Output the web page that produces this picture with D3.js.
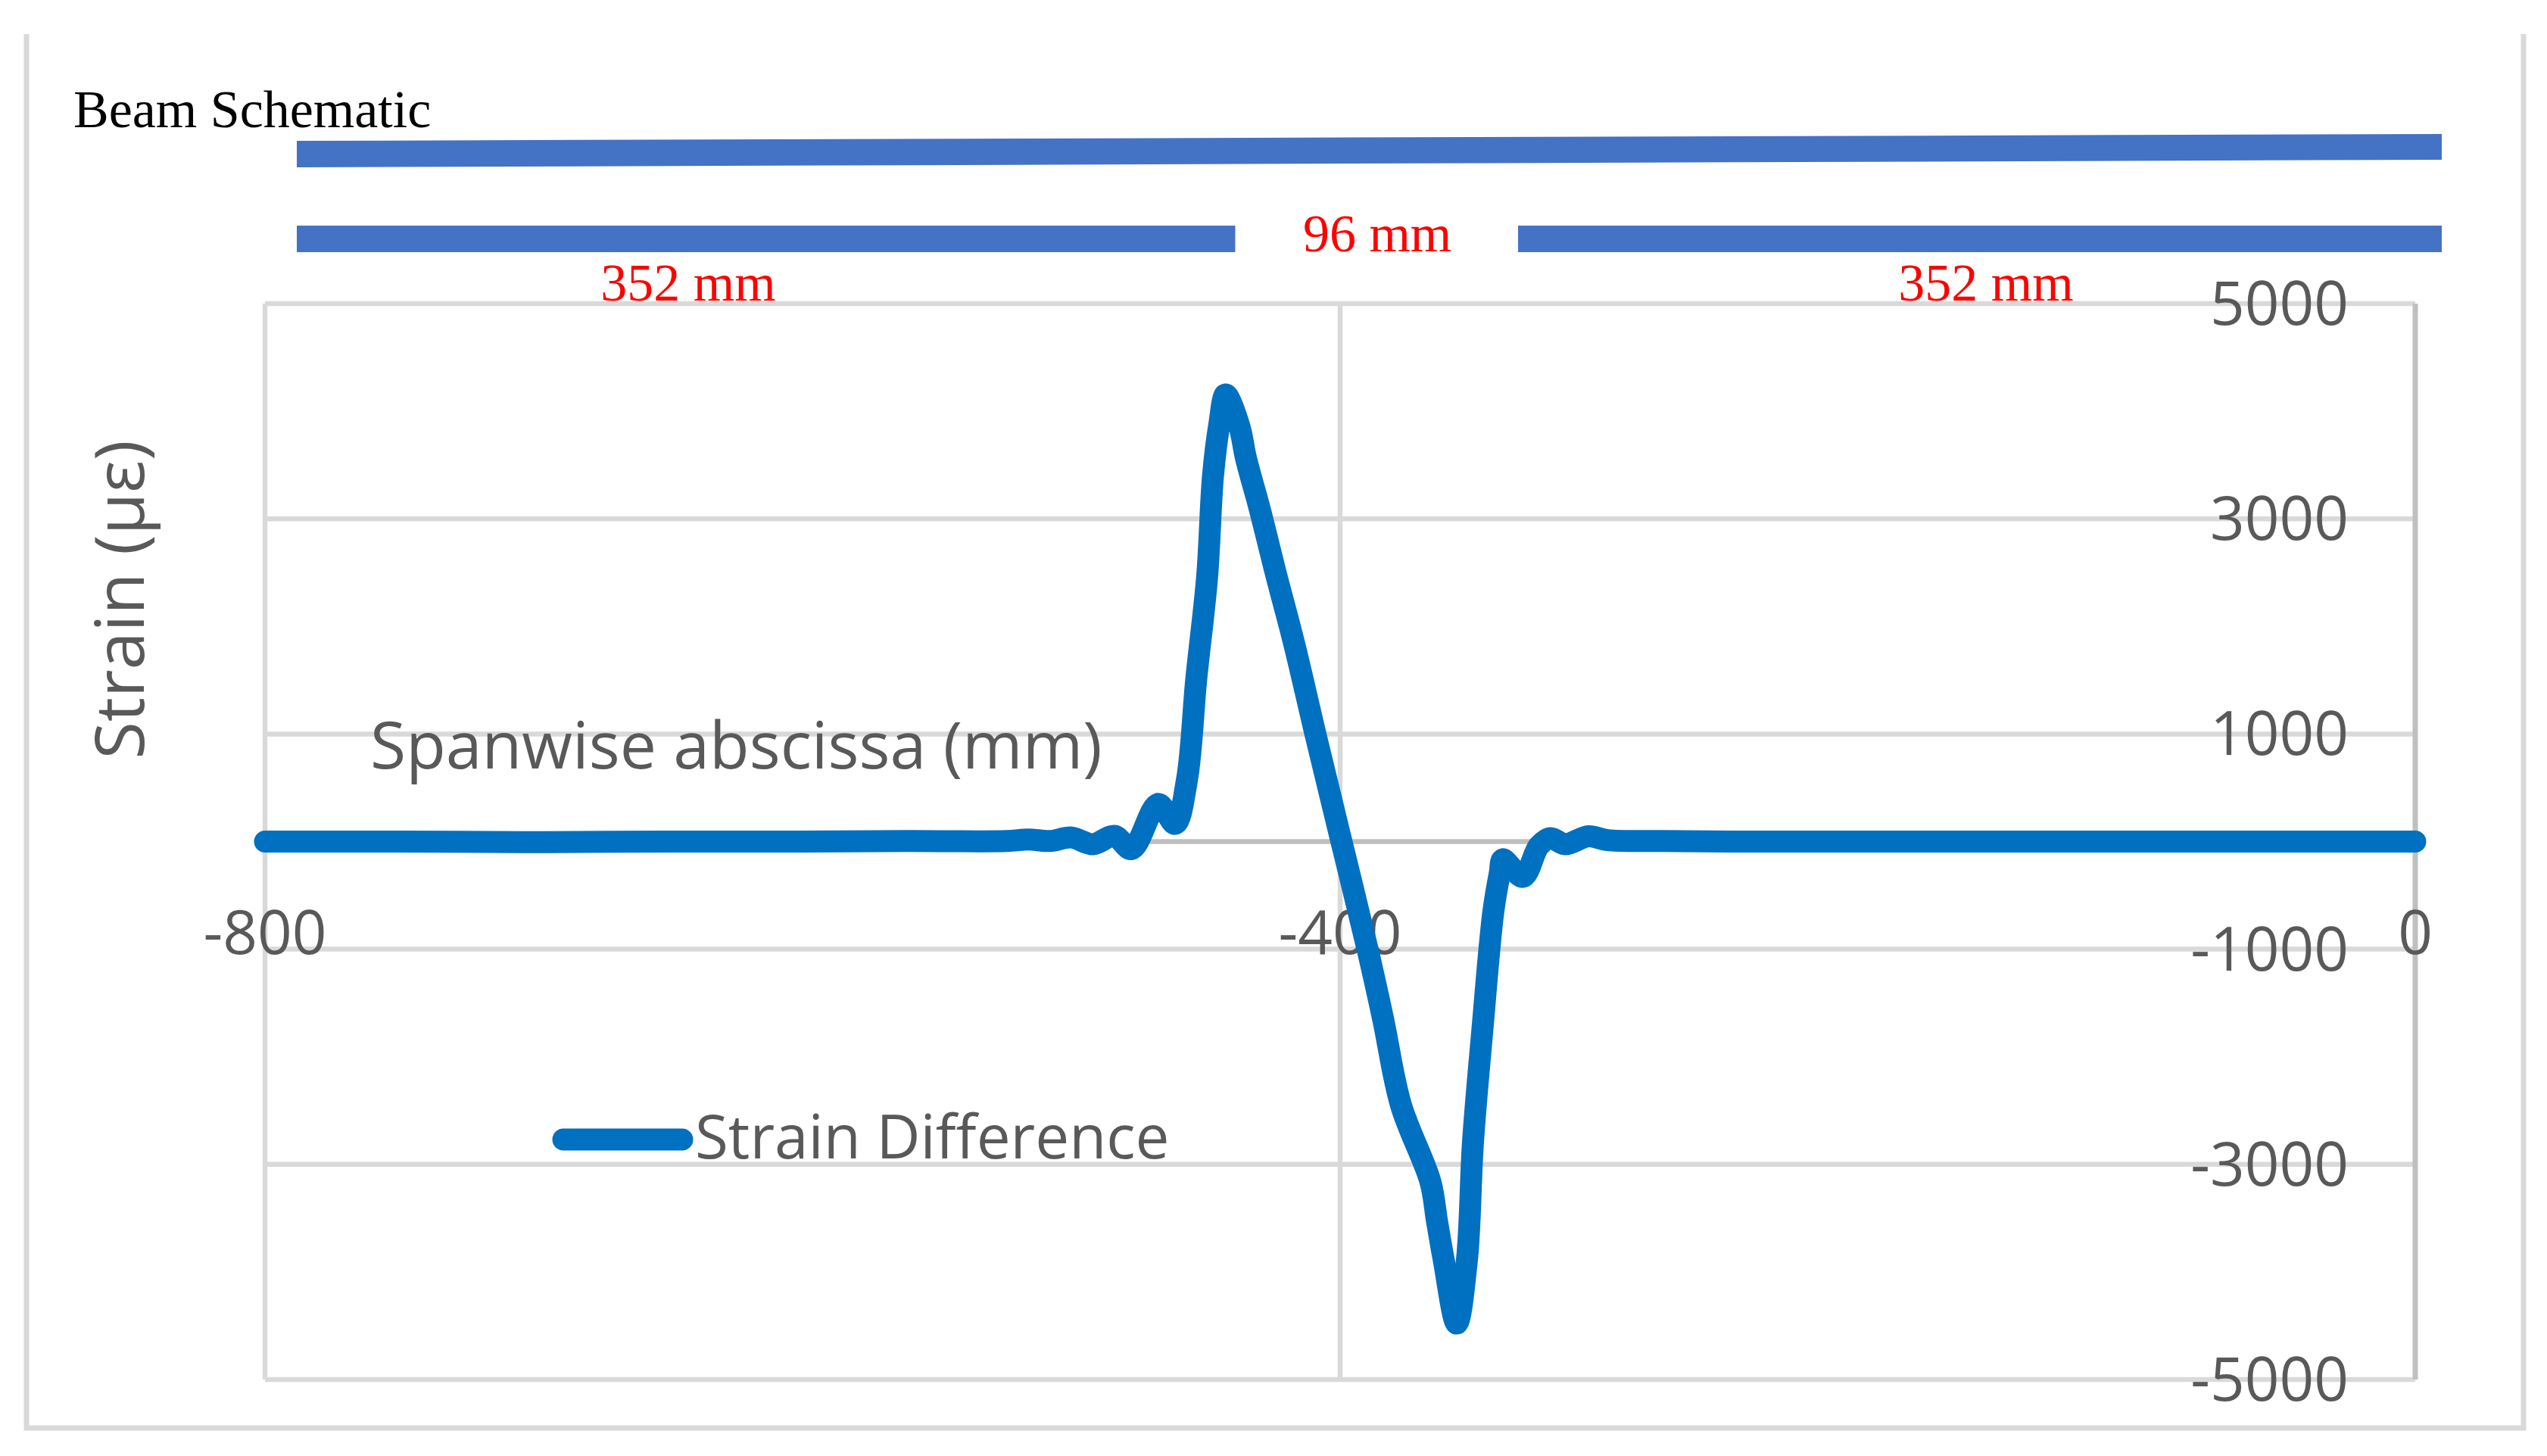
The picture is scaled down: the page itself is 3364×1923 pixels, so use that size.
<!DOCTYPE html>
<html>
<head>
<meta charset="utf-8">
<script src="https://cdn.jsdelivr.net/npm/d3@7/dist/d3.min.js"></script>
<style>
  body { margin: 0; background: #fff; }
  svg { display: block; }
</style>
</head>
<body>
<svg id="chart"></svg>
<script>
// spanwise abscissa (mm)
var spanX = [
  -800, -750, -700, -650, -600, -560, -524, -516, -508, -500, -492, -484, -477.6,
  -467.7, -461.4, -457, -453.5, -449.5, -447.3, -445, -442.6, -437.6, -435,
  -430, -424, -417, -409.2, -399.5, -389.7, -384, -377.4, -366.4,
  -364, -361.5, -356.6, -352.8, -350.6, -347, -343, -340.6, -339.5, -332, -326,
  -321.7, -316.3, -307.6, -300.4, -280, -250, -200, -150, -100, -50, 0
];
// strain difference (micro-strain)
var strain = [
  0, 0, -5, 0, 0, 5, 5, 20, 5, 38, -25, 53, -70,
  350, 165, 573, 1517, 2456, 3398, 3870, 4156, 3870, 3560,
  3100, 2500, 1830, 1000, 0, -1010, -1650, -2446, -3163,
  -3522, -3881, -4480, -3881, -2804, -1728, -651, -292, -165, -328, -39,
  32, -25, 49, 13, 5, 0, 0, 0, 0, 0, 0
];
var xTicks = [-800, -400, 0];
var yTicks = [5000, 3000, 1000, -1000, -3000, -5000];
var seriesName = "Strain Difference";

// beam schematic, in mm along the 800 mm span
var beamTop = [[0, 800]];
var beamBottom = [[0, 350], [455.5, 800]];
var beamLabels = [
  {mm: 146, text: "352 mm", row: 1},
  {mm: 403, text: "96 mm", row: 0},
  {mm: 630, text: "352 mm", row: 1}
];

var W = 3364, H = 1923;
var svg = d3.select("#chart").attr("width", W).attr("height", H);
svg.append("rect").attr("width", W).attr("height", H).attr("fill", "#fff");

var grey = "#595959";
var font = "'Open Sans', 'Segoe UI', sans-serif";

// outer chart border
svg.append("path")
  .attr("d", "M35,45 V1886 H3333 V45")
  .attr("fill", "none").attr("stroke", "#D9D9D9").attr("stroke-width", 7);

var x = d3.scaleLinear().domain([-800, 0]).range([350, 3190]);
var y = d3.scaleLinear().domain([-5000, 5000]).range([1822, 401]);

// gridlines
svg.append("g").selectAll("line").data(yTicks).enter().append("line")
  .attr("x1", x(-800)).attr("x2", x(0))
  .attr("y1", function(d){ return y(d); }).attr("y2", function(d){ return y(d); })
  .attr("stroke", "#D9D9D9").attr("stroke-width", 6.5);
svg.append("g").selectAll("line").data(xTicks.slice(0, 2)).enter().append("line")
  .attr("x1", function(d){ return x(d); }).attr("x2", function(d){ return x(d); })
  .attr("y1", y(5000)).attr("y2", y(-5000))
  .attr("stroke", "#D9D9D9").attr("stroke-width", 6.5);

// axis lines
svg.append("line").attr("x1", x(-800)).attr("x2", x(0)).attr("y1", y(0)).attr("y2", y(0))
  .attr("stroke", "#BFBFBF").attr("stroke-width", 6.5);
svg.append("line").attr("x1", x(0)).attr("x2", x(0)).attr("y1", y(5000)).attr("y2", y(-5000))
  .attr("stroke", "#BFBFBF").attr("stroke-width", 7);

// y tick labels (sit left of the right-hand axis)
svg.append("g").selectAll("text").data(yTicks).enter().append("text")
  .attr("x", 3102).attr("y", function(d){ return y(d) + 28; })
  .attr("text-anchor", "end")
  .style("font-family", font).style("font-size", "80px").attr("fill", grey)
  .text(function(d){ return d; });

// x tick labels
svg.append("g").selectAll("text").data(xTicks).enter().append("text")
  .attr("x", function(d){ return x(d); }).attr("y", y(0) + 148)
  .attr("text-anchor", "middle")
  .style("font-family", font).style("font-size", "80px").attr("fill", grey)
  .text(function(d){ return d; });

// axis titles
svg.append("text")
  .attr("transform", "translate(190,792) rotate(-90)")
  .attr("text-anchor", "middle")
  .style("font-family", font).style("font-size", "90px").attr("fill", grey)
  .text("Strain (με)");
svg.append("text")
  .attr("x", 489).attr("y", 1015)
  .style("font-family", font).style("font-size", "86px").attr("fill", grey)
  .text("Spanwise abscissa (mm)");

// data line
var pts = spanX.map(function(d, i){ return [d, strain[i]]; });
var line = d3.line()
  .x(function(d){ return x(d[0]); })
  .y(function(d){ return y(d[1]); })
  .curve(d3.curveCatmullRom.alpha(0.5));
svg.append("path").datum(pts)
  .attr("d", line)
  .attr("fill", "none").attr("stroke", "#0070C0").attr("stroke-width", 29)
  .attr("stroke-linejoin", "round").attr("stroke-linecap", "round");

// legend
svg.append("line").attr("x1", 744).attr("x2", 901).attr("y1", 1505).attr("y2", 1505)
  .attr("stroke", "#0070C0").attr("stroke-width", 29).attr("stroke-linecap", "round");
svg.append("text").attr("x", 918).attr("y", 1530)
  .style("font-family", font).style("font-size", "80px").attr("fill", grey)
  .text(seriesName);

// beam schematic
var bx = d3.scaleLinear().domain([0, 800]).range([392, 3225]);
var serif = "'Liberation Serif', 'Times New Roman', serif";
svg.append("text").attr("x", 97).attr("y", 168)
  .style("font-family", serif).style("font-size", "70px").attr("fill", "#000")
  .text("Beam Schematic");

svg.append("g").selectAll("path").data(beamTop).enter().append("path")
  .attr("d", function(d){
    return "M" + bx(d[0]) + "," + 186 + " L" + bx(d[1]) + "," + 177 +
           " L" + bx(d[1]) + "," + 211 + " L" + bx(d[0]) + "," + 221 + "Z";
  })
  .attr("fill", "#4472C4");
svg.append("g").selectAll("rect").data(beamBottom).enter().append("rect")
  .attr("x", function(d){ return bx(d[0]); })
  .attr("width", function(d){ return bx(d[1]) - bx(d[0]); })
  .attr("y", 298).attr("height", 35)
  .attr("fill", "#4472C4");

svg.append("g").selectAll("text").data(beamLabels).enter().append("text")
  .attr("x", function(d){ return bx(d.mm); })
  .attr("y", function(d){ return d.row ? 397 : 332; })
  .attr("text-anchor", "middle")
  .style("font-family", serif).style("font-size", "70px").attr("fill", "#FF0000")
  .text(function(d){ return d.text; });
</script>
</body>
</html>
